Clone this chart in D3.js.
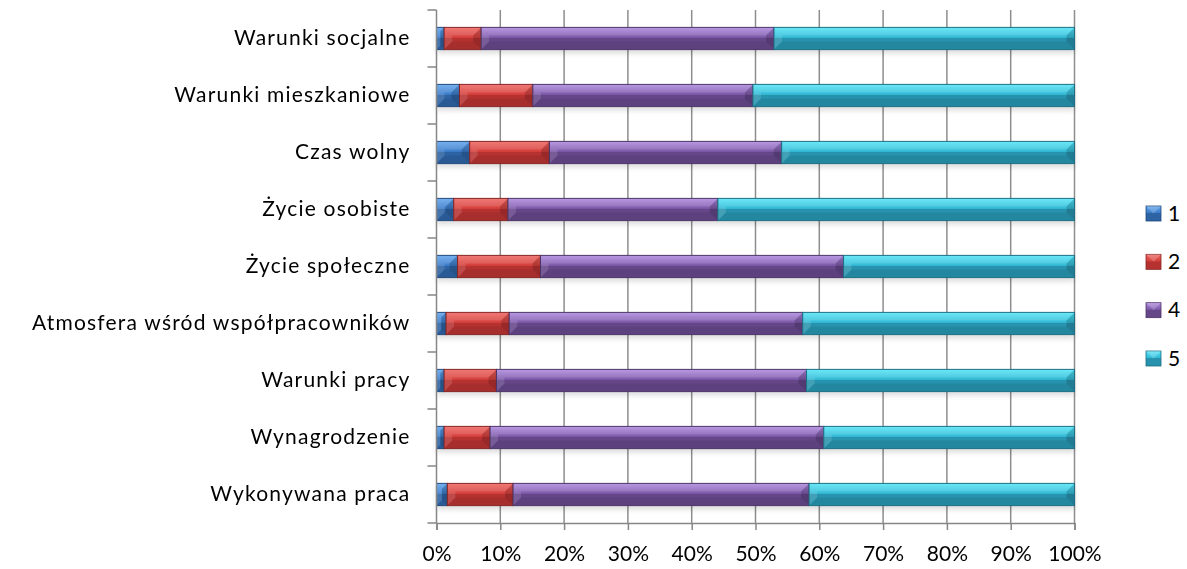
<!DOCTYPE html>
<html><head><meta charset="utf-8">
<script src="https://cdn.jsdelivr.net/npm/d3@7"></script>
<style>
html,body{margin:0;padding:0;background:#fff;}
svg{display:block;font-family:Lato,"Open Sans",sans-serif;}
</style></head>
<body><svg id="c" width="1187" height="569"></svg>
<script>
// ---- data (top to bottom as shown) ----
const categories = ["Warunki socjalne","Warunki mieszkaniowe","Czas wolny","Życie osobiste","Życie społeczne","Atmosfera wśród współpracowników","Warunki pracy","Wynagrodzenie","Wykonywana praca"];
const seriesNames = ["1","2","4","5"];
const s1 = [1.2, 3.6, 5.2, 2.7, 3.3, 1.5, 1.2, 1.2, 1.7];
const s2 = [5.8, 11.5, 12.5, 8.5, 13.0, 9.9, 8.2, 7.2, 10.3];
const s4 = [45.9, 34.5, 36.4, 32.9, 47.5, 46.0, 48.6, 52.3, 46.4];
const s5 = [47.1, 50.4, 45.9, 55.9, 36.2, 42.6, 42.0, 39.3, 41.6];
const xTicks = [0,0.1,0.2,0.3,0.4,0.5,0.6,0.7,0.8,0.9,1];

const colors = {"1":["#62a6ee","#3c7cc9","#2d62a3"],"2":["#ee6662","#d5403c","#b53230"],"4":["#b08ae0","#7d5aa9","#654689"],"5":["#55e6f8","#33bad6","#2893ae"]};

const rows = categories.map((c,i)=>({cat:c,"1":s1[i],"2":s2[i],"4":s4[i],"5":s5[i]}));
const stacked = d3.stack().keys(seriesNames).offset(d3.stackOffsetExpand)(rows);

const svg = d3.select("#c");
const X0=436.5, X1=1074.5, Y0=10, Y1=523;
const x = d3.scaleLinear().domain([0,1]).range([X0,X1]);
const y = d3.scaleBand().domain(categories).range([Y0,Y1]).padding(0);
const barH = y.bandwidth()*0.39;
const FONT = "Lato, 'Open Sans', sans-serif";

// defs: gradients + shadow
const defs = svg.append("defs");
seriesNames.forEach(k=>{
  const g = defs.append("linearGradient").attr("id","g"+k).attr("x1",0).attr("y1",0).attr("x2",0).attr("y2",1);
  g.append("stop").attr("offset","0").attr("stop-color",colors[k][0]);
  g.append("stop").attr("offset","0.45").attr("stop-color",colors[k][1]);
  g.append("stop").attr("offset","0.5").attr("stop-color",colors[k][2]);
  g.append("stop").attr("offset","1").attr("stop-color",colors[k][2]);
});
const f = defs.append("filter").attr("id","sh").attr("x","-5%").attr("y","-20%").attr("width","110%").attr("height","160%");
f.append("feGaussianBlur").attr("stdDeviation",2.5);

// gridlines
svg.append("g").selectAll("line").data(xTicks.slice(1)).join("line")
  .attr("x1",d=>x(d)).attr("x2",d=>x(d)).attr("y1",Y0).attr("y2",Y1)
  .attr("stroke","#8e8e8e").attr("stroke-width",1.5);

// shadows
const shadowG = svg.append("g").attr("filter","url(#sh)");
shadowG.selectAll("rect").data(categories).join("rect")
  .attr("x",x(0)).attr("width",x(1)-x(0))
  .attr("y",d=>y(d)+(y.bandwidth()-barH)/2+4).attr("height",barH)
  .attr("fill","#000").attr("opacity",0.13);

// bars
const bev = 8;
stacked.forEach(layer=>{
  const k = layer.key;
  const g = svg.append("g");
  layer.forEach((d,i)=>{
    const xa = x(d[0]), xb = x(d[1]);
    const w = xb-xa;
    const yt = y(categories[i])+(y.bandwidth()-barH)/2, yb = yt+barH;
    const b = Math.min(bev, w/2, barH/2);
    g.append("rect").attr("x",xa).attr("y",yt).attr("width",w).attr("height",barH).attr("fill","url(#g"+k+")");
    g.append("polygon").attr("points",[[xa,yt],[xb,yt],[xb-b,yt+b],[xa+b,yt+b]].join(" ")).attr("fill","#fff").attr("opacity",0.12);
    g.append("polygon").attr("points",[[xa,yb],[xb,yb],[xb-b,yb-b],[xa+b,yb-b]].join(" ")).attr("fill","#000").attr("opacity",0.08);
    g.append("polygon").attr("points",[[xa,yt],[xa+b,yt+b],[xa+b,yb-b],[xa,yb]].join(" ")).attr("fill","#fff").attr("opacity",0.12);
    g.append("polygon").attr("points",[[xb,yt],[xb-b,yt+b],[xb-b,yb-b],[xb,yb]].join(" ")).attr("fill","#000").attr("opacity",0.16);
    g.append("rect").attr("x",xa).attr("y",yt).attr("width",w).attr("height",barH).attr("fill","none")
      .attr("stroke",d3.color(colors[k][2]).darker(0.8)).attr("stroke-width",1);
  });
});

// y axis (line + boundary ticks)
const axisColor="#868686";
svg.append("line").attr("x1",X0).attr("x2",X0).attr("y1",Y0).attr("y2",Y1).attr("stroke",axisColor).attr("stroke-width",1.5);
const bounds = categories.map(c=>y(c)).concat([Y1]);
svg.append("g").selectAll("line").data(bounds).join("line")
  .attr("x1",X0-9).attr("x2",X0).attr("y1",d=>d).attr("y2",d=>d).attr("stroke",axisColor).attr("stroke-width",1.5);

// x axis
const xAxis = d3.axisBottom(x).tickValues(xTicks).tickFormat(d3.format(".0%")).tickSize(7).tickPadding(10);
const xg = svg.append("g").attr("transform",`translate(0,${Y1})`).call(xAxis);
xg.select(".domain").attr("stroke",axisColor).attr("stroke-width",1.5);
xg.selectAll(".tick line").attr("stroke",axisColor).attr("stroke-width",1.5);
xg.selectAll(".tick text").attr("fill","#000").style("font-size","21px").style("font-family",FONT).attr("y",38).attr("dy",0);

// category labels
const yAxis = d3.axisLeft(y).tickSize(0).tickPadding(26);
const yg = svg.append("g").attr("transform",`translate(${X0},0)`).call(yAxis);
yg.select(".domain").remove();
const labs = yg.selectAll(".tick text").attr("fill","#000").style("font-size","21px").style("letter-spacing","1.2px").style("font-family",FONT);
labs.each(function(){
  const w = this.getComputedTextLength();
  if (w > 400) d3.select(this).attr("textLength",400).attr("lengthAdjust","spacingAndGlyphs");
});

// legend
const legY = d3.scalePoint().domain(seriesNames).range([213,358]);
const lg = svg.append("g");
seriesNames.forEach(k=>{
  const cy = legY(k);
  lg.append("rect").attr("x",1146).attr("y",cy-7).attr("width",15).attr("height",15).attr("fill","url(#g"+k+")").attr("stroke",d3.color(colors[k][2]).darker(0.8)).attr("stroke-width",0.8);
  lg.append("polygon").attr("points",[[1146,cy-7],[1161,cy-7],[1153.5,cy+0.5]].join(" ")).attr("fill","#fff").attr("opacity",0.2);
  lg.append("text").attr("x",1168).attr("y",cy).attr("dy","0.36em").style("font-size","21px").style("font-family",FONT).text(k);
});
</script></body></html>
